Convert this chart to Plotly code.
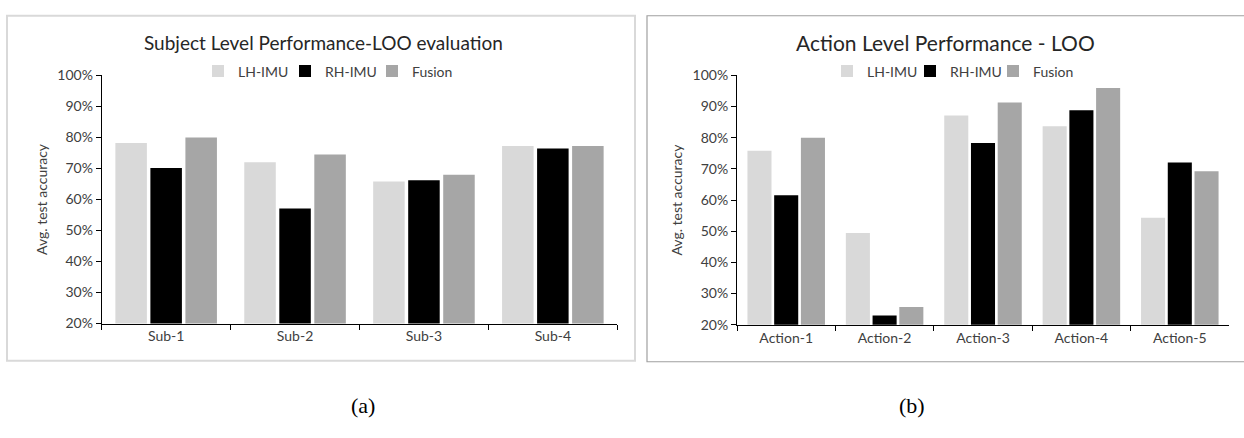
import plotly.graph_objects as go

W, H = 1244, 438

subjects = ["Sub-1", "Sub-2", "Sub-3", "Sub-4"]
subj_lh = [78.2, 72.0, 65.8, 77.2]
subj_rh = [70.1, 57.1, 66.2, 76.4]
subj_fu = [80.0, 74.5, 68.0, 77.2]

actions = ["Action-1", "Action-2", "Action-3", "Action-4", "Action-5"]
act_lh = [75.8, 49.4, 87.1, 83.7, 54.3]
act_rh = [61.5, 23.0, 78.3, 88.8, 72.0]
act_fu = [80.0, 25.7, 91.3, 95.9, 69.2]

series_names = ["LH-IMU", "RH-IMU", "Fusion"]
colors = ["#d9d9d9", "#000000", "#a6a6a6"]

yticks = [20, 30, 40, 50, 60, 70, 80, 90, 100]
ytick_labels = ["20%", "30%", "40%", "50%", "60%", "70%", "80%", "90%", "100%"]

FONT = "Lato"
TXT = "#404040"


def px(x):
    return x / W


def py(y):
    return 1 - y / H


fig = go.Figure()

for name, vals, col in zip(series_names, [subj_lh, subj_rh, subj_fu], colors):
    fig.add_trace(go.Bar(x=subjects, y=vals, name=name, marker_color=col,
                         marker_line_width=0, xaxis="x", yaxis="y",
                         legend="legend", hoverinfo="skip"))

for name, vals, col in zip(series_names, [act_lh, act_rh, act_fu], colors):
    fig.add_trace(go.Bar(x=actions, y=vals, name=name, marker_color=col,
                         marker_line_width=0, xaxis="x2", yaxis="y2",
                         legend="legend2", hoverinfo="skip"))

axis_common = dict(showline=True, linecolor="#000000", linewidth=1,
                   ticks="outside", ticklen=5, tickcolor="#000000",
                   showgrid=False, zeroline=False, fixedrange=True,
                   tickfont=dict(family=FONT, size=14, color=TXT))

ytitle_font = dict(family=FONT, size=14, color=TXT)

fig.update_layout(
    width=W, height=H,
    margin=dict(l=0, r=0, t=0, b=0),
    paper_bgcolor="white", plot_bgcolor="white",
    barmode="group", bargap=0.185, bargroupgap=0.1,
    showlegend=True,
    xaxis=dict(domain=[px(101.7), px(617.3)], anchor="y", tickson="boundaries",
               **axis_common),
    yaxis=dict(domain=[py(327.3), py(69)], anchor="x", range=[20, 100],
               tickmode="array", tickvals=yticks, ticktext=ytick_labels,
               title=dict(text="Avg. test accuracy", standoff=6,
                          font=ytitle_font),
               **axis_common),
    xaxis2=dict(domain=[px(737), px(1229)], anchor="y2", tickson="boundaries",
                **axis_common),
    yaxis2=dict(domain=[py(328.5), py(69)], anchor="x2", range=[20, 100],
                tickmode="array", tickvals=yticks, ticktext=ytick_labels,
                title=dict(text="Avg. test accuracy", standoff=6,
                           font=ytitle_font),
                **axis_common),
    legend=dict(orientation="h", x=px(198), y=py(65), xanchor="left",
                yanchor="middle", font=dict(family=FONT, size=14, color=TXT),
                bgcolor="rgba(0,0,0,0)", itemwidth=30,
                entrywidth=42, entrywidthmode="pixels", traceorder="normal"),
    legend2=dict(orientation="h", x=px(827), y=py(65), xanchor="left",
                 yanchor="middle", font=dict(family=FONT, size=14, color=TXT),
                 bgcolor="rgba(0,0,0,0)", itemwidth=30,
                 entrywidth=38, entrywidthmode="pixels", traceorder="normal"),
    shapes=[
        dict(type="rect", xref="paper", yref="paper",
             x0=px(7), x1=px(635), y0=py(366), y1=py(7),
             line=dict(color="#d9d9d9", width=2), layer="below"),
        dict(type="rect", xref="paper", yref="paper",
             x0=px(647), x1=px(1252), y0=py(367), y1=py(7),
             line=dict(color="#a0a0a0", width=1.2), layer="below"),
    ],
    annotations=[
        dict(text="Subject Level Performance-LOO evaluation", xref="paper",
             yref="paper", x=px(323), y=py(35), xanchor="center",
             yanchor="middle", showarrow=False,
             font=dict(family=FONT, size=19, color="#262626")),
        dict(text="Action Level Performance - LOO", xref="paper",
             yref="paper", x=px(946), y=py(35), xanchor="center",
             yanchor="middle", showarrow=False,
             font=dict(family=FONT, size=21, color="#262626")),
        dict(text="(a)", xref="paper", yref="paper", x=px(363), y=py(412),
             xanchor="center", yanchor="middle", showarrow=False,
             font=dict(family="Liberation Serif", size=22, color="#000000")),
        dict(text="(b)", xref="paper", yref="paper", x=px(912), y=py(412),
             xanchor="center", yanchor="middle", showarrow=False,
             font=dict(family="Liberation Serif", size=22, color="#000000")),
    ],
)

fig.write_html(
    "out.html",
    config={"displayModeBar": False},
    post_script="document.body.style.margin='0';"
                "document.body.style.overflow='hidden';",
)
